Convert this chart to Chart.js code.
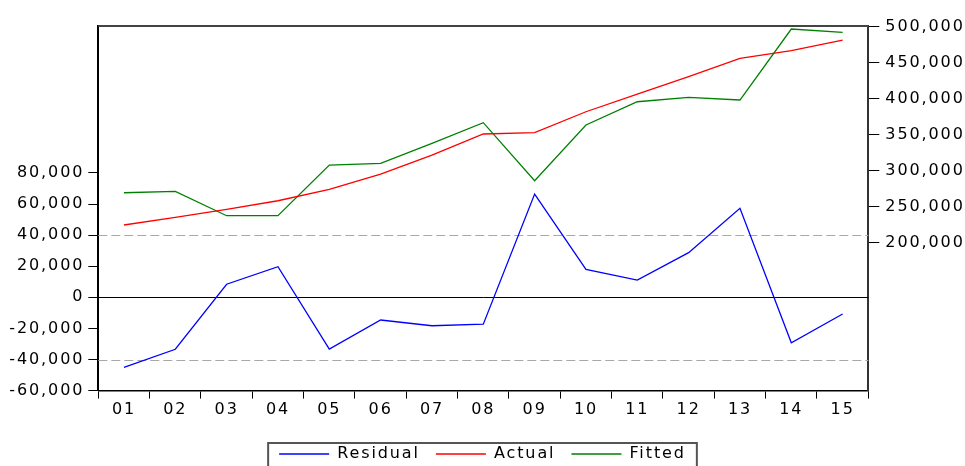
<!DOCTYPE html>
<html>
<head>
<meta charset="utf-8">
<script src="https://cdn.jsdelivr.net/npm/chart.js@4.4.1/dist/chart.umd.min.js"></script>
<style>
  html, body { margin: 0; padding: 0; background: #fff; }
  #chart { display: block; }
</style>
</head>
<body>
<canvas id="chart" width="965" height="466"></canvas>
<script>
const periods = ["01", "02", "03", "04", "05", "06", "07", "08", "09", "10", "11", "12", "13", "14", "15"];

const residual = [-45000, -33400, 8400, 19700, -33250, -14600, -18300, -17300, 66400, 18000, 11100, 28700, 57200, -29200, -10700];
const actual = [224600, 235300, 246400, 258300, 274200, 295400, 321800, 351000, 352800, 381900, 406500, 430600, 456100, 466700, 481500];
const fitted = [269400, 271400, 237500, 237500, 307900, 310300, 338000, 366700, 286100, 363500, 395800, 401900, 398200, 496800, 492200];

const leftTicks = [-60000, -40000, -20000, 0, 20000, 40000, 60000, 80000];
const rightTicks = [200000, 250000, 300000, 350000, 400000, 450000, 500000];
const bandLines = [40000, -40000];

const font = { family: "DejaVu Sans", size: 16 };
const spacing = "1.9px";

// EViews text looks stretched, so widen it a bit
const letterSpacing = {
    id: "letterSpacing",
    beforeLayout(chart) { chart.ctx.letterSpacing = spacing; },
    beforeDraw(chart) { chart.ctx.letterSpacing = spacing; },
};

const frame = {
    id: "frame",
    beforeDatasetsDraw(chart) {
        const { ctx, chartArea: a, scales } = chart;
        ctx.save();
        ctx.lineWidth = 1;
        ctx.strokeStyle = "#a8a8a8";
        ctx.setLineDash([9, 4]);
        bandLines.forEach((v) => {
            const y = Math.round(scales.yL.getPixelForValue(v)) + 0.5;
            ctx.beginPath();
            ctx.moveTo(a.left, y);
            ctx.lineTo(a.right, y);
            ctx.stroke();
        });
        ctx.setLineDash([]);
        ctx.strokeStyle = "#000";
        const y0 = Math.round(scales.yL.getPixelForValue(0)) + 0.5;
        ctx.beginPath();
        ctx.moveTo(a.left, y0);
        ctx.lineTo(a.right, y0);
        ctx.stroke();
        ctx.strokeStyle = "#444";
        ctx.lineWidth = 2;
        ctx.beginPath();
        ctx.moveTo(a.left, a.top);
        ctx.lineTo(a.right, a.top);
        ctx.stroke();
        ctx.restore();
    },
    afterDraw(chart) {
        const boxes = chart.legend.legendHitBoxes;
        if (!boxes || !boxes.length) return;
        const { ctx } = chart;
        const first = boxes[0];
        const last = boxes[boxes.length - 1];
        const left = first.left - 11;
        const right = last.left + last.width + 11;
        const top = first.top + first.height / 2 - 11;
        ctx.save();
        ctx.strokeStyle = "#555";
        ctx.lineWidth = 2;
        ctx.strokeRect(left, top, right - left, 60);
        ctx.restore();
    },
};

const lineSet = (label, data, axis, color) => ({
    label: label,
    data: data,
    yAxisID: axis,
    borderColor: color,
    backgroundColor: color,
    pointBorderColor: color,
    pointBackgroundColor: color,
    pointBorderWidth: 1.3,
});

new Chart(document.getElementById("chart"), {
    type: "line",
    plugins: [letterSpacing, frame],
    data: {
        labels: periods,
        datasets: [
            lineSet("Residual", residual, "yL", "#0000ff"),
            lineSet("Actual", actual, "yR", "#ff0000"),
            lineSet("Fitted", fitted, "yR", "#008000"),
        ],
    },
    options: {
        responsive: false,
        animation: false,
        layout: { padding: { top: 26, left: 0, right: 0, bottom: -6 } },
        elements: {
            line: { borderWidth: 1.3, tension: 0 },
            point: { radius: 0, hoverRadius: 0 },
        },
        plugins: {
            tooltip: { enabled: false },
            legend: {
                position: "bottom",
                labels: {
                    usePointStyle: true,
                    pointStyle: "line",
                    pointStyleWidth: 50,
                    padding: 16,
                    color: "#000",
                    font: font,
                },
            },
        },
        scales: {
            x: {
                type: "category",
                offset: true,
                grid: { offset: true, drawOnChartArea: false, tickLength: 8, color: "#000", tickColor: "#000" },
                border: { color: "#000", width: 1.5 },
                ticks: { color: "#000", font: font, padding: 2, maxRotation: 0, autoSkip: false },
                afterFit: (scale) => { scale.height = 39.4; },
            },
            yL: {
                position: "left",
                min: -60000,
                max: 174500,
                grid: { drawOnChartArea: false, tickLength: 10, color: "#000", tickColor: "#000" },
                border: { color: "#000", width: 2 },
                ticks: {
                    color: "#000",
                    font: font,
                    padding: 4,
                    callback: (v) => v.toLocaleString("en-US"),
                },
                afterBuildTicks: (scale) => { scale.ticks = leftTicks.map((v) => ({ value: v })); },
                afterFit: (scale) => { scale.width = 98.3; },
            },
            yR: {
                position: "right",
                min: -5400,
                max: 501000,
                grid: { drawOnChartArea: false, tickLength: 11, color: "#000", tickColor: "#000" },
                border: { color: "#333", width: 2 },
                ticks: {
                    color: "#000",
                    font: font,
                    padding: 6,
                    callback: (v) => v.toLocaleString("en-US"),
                },
                afterBuildTicks: (scale) => { scale.ticks = rightTicks.map((v) => ({ value: v })); },
                afterFit: (scale) => { scale.width = 96.7; },
            },
        },
    },
});
</script>
</body>
</html>
